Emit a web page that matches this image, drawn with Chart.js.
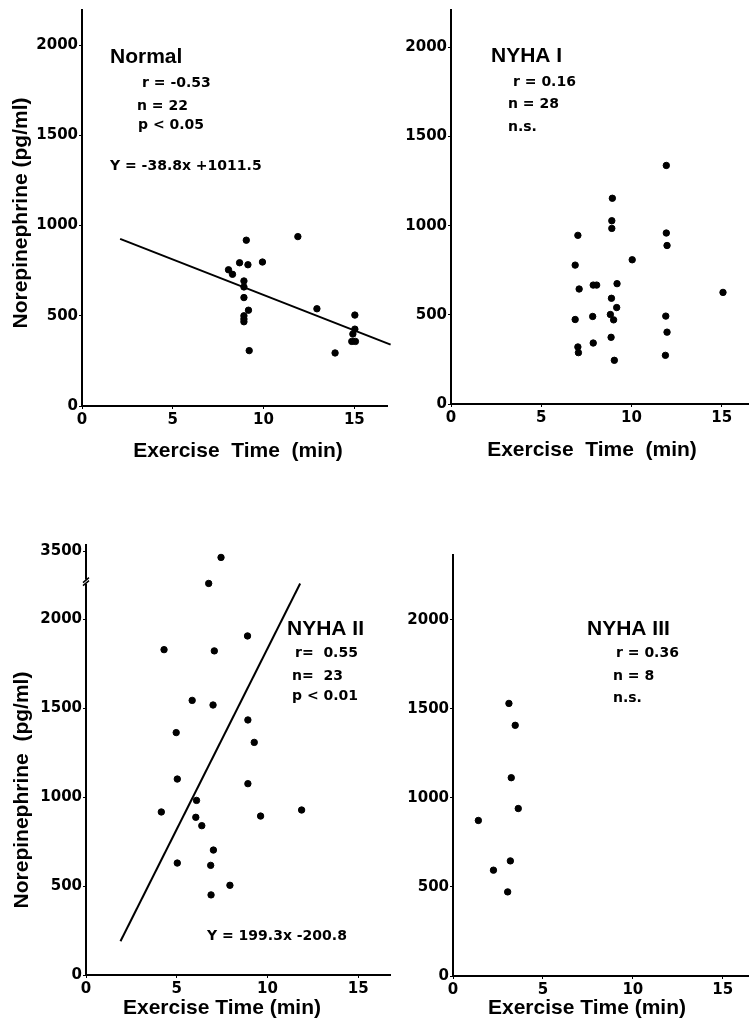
<!DOCTYPE html>
<html>
<head>
<meta charset="utf-8">
<script src="https://cdn.jsdelivr.net/npm/chart.js@4"></script>
<style>
  body { margin: 0; background: #fff; }
  canvas { position: absolute; }
</style>
</head>
<body>
<canvas id="c1" width="395" height="470" style="left:0;top:0"></canvas>
<canvas id="c2" width="383" height="470" style="left:370px;top:0"></canvas>
<canvas id="c3" width="395" height="499" style="left:0;top:530px"></canvas>
<canvas id="c4" width="383" height="499" style="left:370px;top:530px"></canvas>
<script>
// tick values
const xTicks = [0, 5, 10, 15];
const yTicks = [0, 500, 1000, 1500, 2000];
const yTicksII = [0, 500, 1000, 1500, 2000, 3500];

// Normal
const normalX = [8.07, 8.29, 8.68, 9.05, 9.14, 9.94, 11.89, 8.92, 8.92, 8.92, 9.17, 8.92, 8.92, 8.92, 9.21, 12.94, 15.03, 15.03, 14.92, 14.86, 15.06, 13.94];
const normalY = [755, 730, 794, 919, 783, 798, 939, 693, 660, 601, 531, 500, 482, 467, 307, 539, 504, 426, 399, 358, 358, 294];
const normalFitX = [2.1, 17.0];
const normalFitY = [926, 340];

// NYHA I
const nyha1X = [7.03, 6.88, 7.10, 6.88, 7.03, 7.06, 7.88, 8.07, 7.85, 7.88, 8.94, 8.91, 8.91, 9.20, 8.89, 9.18, 8.83, 9.01, 8.87, 9.05, 10.04, 11.93, 11.93, 11.97, 11.90, 11.97, 11.88, 15.07];
const nyha1Y = [946, 779, 645, 474, 320, 288, 667, 667, 491, 342, 1154, 1028, 985, 675, 593, 541, 502, 472, 374, 245, 809, 1338, 959, 889, 493, 403, 273, 626];

// NYHA II (the axis is broken above 2200)
const nyha2X = [7.44, 6.76, 8.90, 4.30, 7.07, 5.85, 7.00, 8.92, 4.97, 9.27, 5.03, 8.92, 6.09, 4.15, 6.05, 6.38, 9.62, 11.88, 7.02, 5.03, 6.87, 6.89, 7.93];
const nyha2Y = [3400, 2200, 1905, 1828, 1821, 1543, 1517, 1433, 1362, 1307, 1101, 1075, 981, 916, 886, 839, 893, 927, 702, 629, 616, 450, 504];
const nyha2FitX = [1.9, 11.8];
const nyha2FitY = [190, 2200];

// NYHA III
const nyha3X = [3.11, 3.46, 3.24, 3.63, 1.41, 3.19, 2.25, 3.04];
const nyha3Y = [1530, 1407, 1113, 940, 873, 646, 594, 472];

const TICK_FONT = { family: 'DejaVu Sans', weight: 'bold', size: 15 };
const TITLE_FONT = 'bold 21px "Liberation Sans", Arial, sans-serif';
const HEAD_FONT = 'bold 21px "Liberation Sans", Arial, sans-serif';
const SMALL_FONT = 'bold 14px "DejaVu Sans", sans-serif';

// axis break for NYHA II
const BRK = 2210;
function brk(v) { return v <= BRK ? v : 2215 + (v - 3000) * 0.328; }
function unbrk(d) { return d <= BRK ? d : 3000 + (d - 2215) / 0.328; }

function pts(xs, ys, f) {
  return xs.map((x, i) => ({ x: x, y: f ? f(ys[i]) : ys[i] }));
}

function textPlugin(items, yTitle) {
  return {
    id: 'texts',
    afterDraw(chart) {
      const ctx = chart.ctx;
      ctx.save();
      ctx.fillStyle = '#000';
      ctx.textBaseline = 'alphabetic';
      items.forEach(t => {
        ctx.font = t.font;
        ctx.textAlign = t.align || 'left';
        ctx.fillText(t.text, t.x, t.y);
      });
      if (yTitle) {
        ctx.translate(yTitle.x, yTitle.y);
        ctx.rotate(-Math.PI / 2);
        ctx.font = TITLE_FONT;
        ctx.textAlign = 'center';
        ctx.textBaseline = 'middle';
        ctx.fillText(yTitle.text, 0, 0);
      }
      ctx.restore();
    }
  };
}

function makeChart(id, cfg) {
  const canvas = document.getElementById(id);
  const W = canvas.width, H = canvas.height;
  const datasets = [{
    type: 'scatter',
    data: cfg.points,
    backgroundColor: '#000',
    borderColor: '#000',
    pointRadius: 3.2,
    pointHoverRadius: 3.2
  }];
  if (cfg.fit) {
    datasets.push({
      type: 'line',
      data: cfg.fit,
      borderColor: '#000',
      borderWidth: 2,
      pointRadius: 0,
      fill: false,
      clip: false
    });
  }
  const plugins = [textPlugin(cfg.texts, cfg.yTitle)];
  if (cfg.extra) plugins.push(cfg.extra);
  new Chart(canvas, {
    type: 'scatter',
    data: { datasets: datasets },
    plugins: plugins,
    options: {
      responsive: false,
      animation: false,
      events: [],
      layout: { padding: { top: cfg.top, right: W - cfg.right, left: 0, bottom: 0 } },
      plugins: { legend: { display: false }, tooltip: { enabled: false } },
      scales: {
        x: {
          type: 'linear',
          min: 0,
          max: cfg.xMax,
          afterBuildTicks: s => { s.ticks = xTicks.map(v => ({ value: v })); },
          afterFit: s => { s.height = H - cfg.bottom; },
          grid: { drawOnChartArea: false, tickLength: 3, color: '#000', lineWidth: 1 },
          border: { color: '#000', width: 2 },
          ticks: { color: '#000', font: TICK_FONT, padding: 2, maxRotation: 0, autoSkip: false }
        },
        y: {
          type: 'linear',
          min: 0,
          max: cfg.yMax,
          afterBuildTicks: s => { s.ticks = cfg.yTicks.map(v => ({ value: v })); },
          afterFit: s => { s.width = cfg.left; },
          grid: { drawOnChartArea: false, tickLength: 3, color: '#000', lineWidth: 1 },
          border: { color: '#000', width: 2 },
          ticks: {
            color: '#000', font: TICK_FONT, padding: 1, autoSkip: false,
            callback: cfg.yLabel || (v => String(v))
          }
        }
      }
    }
  });
}

makeChart('c1', {
  points: pts(normalX, normalY),
  fit: pts(normalFitX, normalFitY),
  xMax: 16.8, yMax: 2195,
  left: 82, top: 10, bottom: 406, right: 387,
  yTicks: yTicks,
  yTitle: { text: 'Norepinephrine (pg/ml)', x: 21, y: 213 },
  texts: [
    { text: 'Normal', x: 110, y: 63, font: HEAD_FONT },
    { text: 'r = -0.53', x: 142, y: 87, font: SMALL_FONT },
    { text: 'n = 22', x: 137, y: 110, font: SMALL_FONT },
    { text: 'p < 0.05', x: 138, y: 129, font: SMALL_FONT },
    { text: 'Y = -38.8x +1011.5', x: 110, y: 170, font: SMALL_FONT },
    { text: 'Exercise  Time  (min)', x: 238, y: 457, font: TITLE_FONT, align: 'center' }
  ]
});

makeChart('c2', {
  points: pts(nyha1X, nyha1Y),
  xMax: 16.5, yMax: 2210,
  left: 81, top: 7, bottom: 404, right: 383,
  yTicks: yTicks,
  texts: [
    { text: 'NYHA I', x: 121, y: 62, font: HEAD_FONT },
    { text: 'r = 0.16', x: 143, y: 86, font: SMALL_FONT },
    { text: 'n = 28', x: 138, y: 108, font: SMALL_FONT },
    { text: 'n.s.', x: 138, y: 131, font: SMALL_FONT },
    { text: 'Exercise  Time  (min)', x: 222, y: 456, font: TITLE_FONT, align: 'center' }
  ]
});

// small slash across the y axis where it is broken
const breakMarks = {
  id: 'breakMarks',
  afterDraw(chart) {
    const ctx = chart.ctx;
    const x = chart.chartArea.left;
    const y = chart.scales.y.getPixelForValue(BRK);
    ctx.save();
    ctx.fillStyle = '#fff';
    ctx.fillRect(x - 2, y - 2, 4, 4);
    ctx.strokeStyle = '#000';
    ctx.lineWidth = 1.5;
    ctx.beginPath();
    ctx.moveTo(x - 3, y + 1); ctx.lineTo(x + 3, y - 4);
    ctx.moveTo(x - 3, y + 4); ctx.lineTo(x + 3, y - 1);
    ctx.stroke();
    ctx.restore();
  }
};

makeChart('c3', {
  points: pts(nyha2X, nyha2Y, brk),
  fit: pts(nyha2FitX, nyha2FitY),
  xMax: 16.75, yMax: 2416,
  left: 86, top: 15, bottom: 445, right: 390,
  yTicks: yTicksII.map(brk),
  yLabel: v => String(Math.round(unbrk(v))),
  yTitle: { text: 'Norepinephrine  (pg/ml)', x: 22, y: 260 },
  extra: breakMarks,
  texts: [
    { text: 'NYHA II', x: 287, y: 105, font: HEAD_FONT },
    { text: 'r=  0.55', x: 295, y: 127, font: SMALL_FONT },
    { text: 'n=  23', x: 292, y: 150, font: SMALL_FONT },
    { text: 'p < 0.01', x: 292, y: 170, font: SMALL_FONT },
    { text: 'Y = 199.3x -200.8', x: 207, y: 410, font: SMALL_FONT },
    { text: 'Exercise Time (min)', x: 222, y: 484, font: TITLE_FONT, align: 'center' }
  ]
});

makeChart('c4', {
  points: pts(nyha3X, nyha3Y),
  xMax: 16.45, yMax: 2363,
  left: 83, top: 25, bottom: 446, right: 383,
  yTicks: yTicks,
  texts: [
    { text: 'NYHA III', x: 217, y: 105, font: HEAD_FONT },
    { text: 'r = 0.36', x: 246, y: 127, font: SMALL_FONT },
    { text: 'n = 8', x: 243, y: 150, font: SMALL_FONT },
    { text: 'n.s.', x: 243, y: 172, font: SMALL_FONT },
    { text: 'Exercise Time (min)', x: 217, y: 484, font: TITLE_FONT, align: 'center' }
  ]
});
</script>
</body>
</html>
